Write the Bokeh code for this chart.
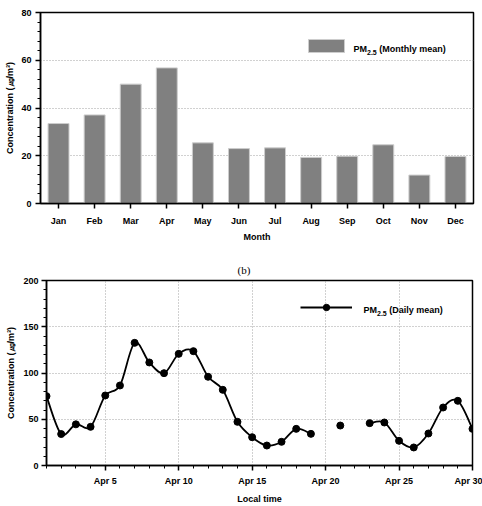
import numpy as np
from bokeh.plotting import figure
from bokeh.models import (FactorRange, Range1d, FixedTicker, Label, BoxAnnotation,
                          Legend, LegendItem)
from bokeh.embed import file_html
from bokeh.resources import INLINE

# ---------------- data ----------------
months = ["Jan", "Feb", "Mar", "Apr", "May", "Jun", "Jul", "Aug", "Sep", "Oct", "Nov", "Dec"]
monthly_mean = [33.5, 37.1, 50.0, 56.8, 25.4, 23.0, 23.3, 19.3, 19.8, 24.6, 11.9, 19.7]
monthly_y_ticks = [0, 20, 40, 60, 80]

days = list(range(1, 31))
daily_mean = [75.0, 34.0, 44.5, 41.8, 75.7, 86.5, 132.6, 111.4, 99.8, 120.7,
              123.6, 95.9, 81.8, 47.2, 30.6, 21.6, 25.6, 39.6, 34.2, None,
              43.2, None, 45.8, 46.5, 26.7, 19.5, 34.6, 62.7, 69.9, 39.6]
daily_x_ticks = [5, 10, 15, 20, 25, 30]
daily_x_labels = ["Apr 5", "Apr 10", "Apr 15", "Apr 20", "Apr 25", "Apr 30"]
daily_y_ticks = [0, 50, 100, 150, 200]

FONT = "Liberation Sans"
YLABEL = "Concentration (\u338d/m\u00b3)"


def style_axis(ax, label_standoff, axis_label_standoff):
    ax.axis_line_width = 1.5
    ax.axis_line_color = "black"
    ax.major_tick_line_width = 1.5
    ax.major_tick_line_color = "black"
    ax.major_tick_out = 5
    ax.major_tick_in = 0
    ax.minor_tick_out = 3
    ax.minor_tick_in = 0
    ax.minor_tick_line_width = 1
    ax.minor_tick_line_color = "black"
    ax.major_label_text_font = FONT
    ax.major_label_text_font_style = "bold"
    ax.major_label_text_font_size = "9px"
    ax.major_label_text_color = "black"
    ax.major_label_standoff = label_standoff
    ax.axis_label_text_font = FONT
    ax.axis_label_text_font_style = "bold"
    ax.axis_label_text_font_size = "9px"
    ax.axis_label_text_color = "black"
    ax.axis_label_standoff = axis_label_standoff


def style_grid(g):
    g.grid_line_color = "#8a8a8a"
    g.grid_line_dash = "1 2"
    g.grid_line_width = 0.8


def lbl(text, x, y, size="9px", font=FONT, style="bold", align="left"):
    return Label(x=x, y=y, x_units="screen", y_units="screen", text=text,
                 text_font=font, text_font_style=style, text_font_size=size,
                 text_align=align, text_baseline="alphabetic", text_color="black")


# ---------------- (a) monthly bars ----------------
p1 = figure(width=482, height=250, x_range=FactorRange(*months), y_range=Range1d(0, 80),
            output_backend="svg", toolbar_location=None,
            min_border_left=40, min_border_right=9, min_border_top=12, min_border_bottom=47)
p1.outline_line_color = "black"
p1.outline_line_width = 1.5
p1.outline_line_alpha = 1

p1.vbar(x=months, top=monthly_mean, width=0.58, fill_color="#808080",
        line_color="#cdcdcd", line_width=1)

p1.yaxis.ticker = FixedTicker(ticks=monthly_y_ticks, minor_ticks=list(range(0, 81, 4)))
p1.ygrid.ticker = FixedTicker(ticks=monthly_y_ticks)
p1.xgrid.visible = False
style_grid(p1.ygrid)
style_axis(p1.xaxis[0], 7, 3)
style_axis(p1.yaxis[0], 4, 3)
p1.xaxis.axis_label = "Month"
p1.yaxis.axis_label = YLABEL

p1.add_layout(lbl("(a)", 204, 202.5, size="11px", font="Liberation Serif", style="normal", align="center"))
p1.add_layout(BoxAnnotation(left=268, right=304, bottom=151, top=164,
                            left_units="screen", right_units="screen",
                            top_units="screen", bottom_units="screen",
                            fill_color="#808080", fill_alpha=1,
                            line_color="#cdcdcd", line_width=1, line_alpha=1))
p1.add_layout(lbl("PM", 313, 155))
p1.add_layout(lbl("2.5", 326.5, 151.5, size="7px"))
p1.add_layout(lbl("(Monthly mean)", 338.7, 155))

# ---------------- (b) daily line ----------------
xs = np.array(days, dtype=float)
ys = np.array([np.nan if v is None else v for v in daily_mean], dtype=float)
valid = ~np.isnan(ys)
n = len(xs)
seg = {k: [] for k in ("x0", "y0", "x1", "y1", "cx0", "cy0", "cx1", "cy1")}
for i in range(n - 1):
    if valid[i] and valid[i + 1]:
        a = i - 1 if (i - 1 >= 0 and valid[i - 1]) else i
        b = i + 2 if (i + 2 < n and valid[i + 2]) else i + 1
        seg["x0"].append(xs[i]); seg["y0"].append(ys[i])
        seg["x1"].append(xs[i + 1]); seg["y1"].append(ys[i + 1])
        seg["cx0"].append(xs[i] + (xs[i + 1] - xs[a]) / 6)
        seg["cy0"].append(ys[i] + (ys[i + 1] - ys[a]) / 6)
        seg["cx1"].append(xs[i + 1] - (xs[b] - xs[i]) / 6)
        seg["cy1"].append(ys[i + 1] - (ys[b] - ys[i]) / 6)

p2 = figure(width=482, height=256, x_range=Range1d(1, 30), y_range=Range1d(0, 200),
            output_backend="svg", toolbar_location=None, title="(b)",
            min_border_left=46, min_border_right=10, min_border_top=30, min_border_bottom=41)
p2.title.align = "left"
p2.title.offset = 191
p2.title.text_font = "Liberation Serif"
p2.title.text_font_style = "normal"
p2.title.text_font_size = "11px"
p2.title.text_color = "black"
p2.title.standoff = 10
p2.outline_line_color = "black"
p2.outline_line_width = 1.5
p2.outline_line_alpha = 1

bez = p2.bezier(line_color="black", line_width=1.8, **seg)
sc = p2.scatter(x=xs, y=ys, size=7, fill_color="black", line_color="black")

p2.xaxis.ticker = FixedTicker(ticks=daily_x_ticks, minor_ticks=days)
p2.xaxis.major_label_overrides = {t: l for t, l in zip(daily_x_ticks, daily_x_labels)}
p2.yaxis.ticker = FixedTicker(ticks=daily_y_ticks, minor_ticks=list(range(0, 201, 10)))
p2.xgrid.ticker = FixedTicker(ticks=daily_x_ticks)
p2.ygrid.ticker = FixedTicker(ticks=daily_y_ticks)
style_grid(p2.xgrid)
style_grid(p2.ygrid)
style_axis(p2.xaxis[0], 5, 5)
style_axis(p2.yaxis[0], 3, 4)
p2.xaxis.axis_label = "Local time"
p2.yaxis.axis_label = YLABEL

legend = Legend(items=[LegendItem(label=" ", renderers=[bez, sc])],
                location=(254, 150), glyph_width=52, glyph_height=16,
                label_height=16, label_width=1, label_standoff=0,
                label_text_font_size="1px", padding=0, margin=0, spacing=0,
                border_line_color=None, background_fill_alpha=0)
p2.add_layout(legend)

p2.add_layout(lbl("PM", 317, 156))
p2.add_layout(lbl("2.5", 330.5, 152.5, size="7px"))
p2.add_layout(lbl("(Daily mean)", 342.7, 156))

open("out.html", "w").write(file_html([p1, p2], INLINE))
